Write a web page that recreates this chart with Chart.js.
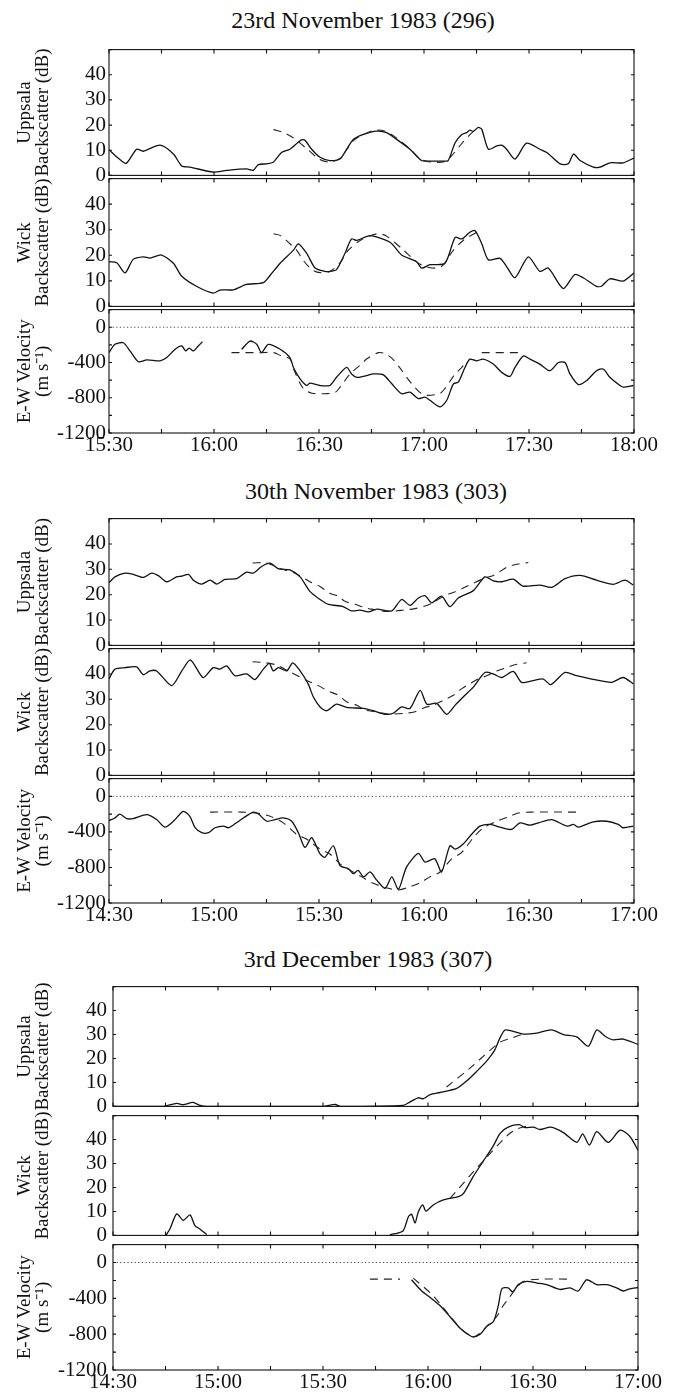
<!DOCTYPE html>
<html><head><meta charset="utf-8">
<script src="https://cdn.jsdelivr.net/npm/chart.js@4.4.1/dist/chart.umd.min.js"></script>
<style>
html,body{margin:0;padding:0;background:#fff;}
body{width:678px;height:1396px;position:relative;overflow:hidden;font-family:'Liberation Serif','Times New Roman',Times,serif;color:#111;}
.ttl{position:absolute;font-size:24px;line-height:24px;white-space:nowrap;transform:translateX(-50%);}
</style></head><body>
<div class="ttl" style="left:363px;top:8px;">23rd November 1983 (296)</div>
<div class="ttl" style="left:376px;top:479px;">30th November 1983 (303)</div>
<div class="ttl" style="left:368px;top:947px;">3rd December 1983 (307)</div>
<script>
// ---------- 23rd November 1983 (minutes after 15:30) ----------
const g1UppT = [0,2.7,4.9,7.9,9.8,14.6,18.4,20.8,23.1,29.8,33.6,39.3,41.2,42.7,45.1,46.9,49.3,51.7,53.9,55,56,57.9,60.3,63.1,66,67.9,69.8,72.7,76.5,79.3,82.2,86,89.3,91.7,95.5,96.9,98.9,100.8,102.2,103.1,104.1,105.5,106.5,108.4,110.8,112.2,113.6,116,119.3,123.1,125.1,128.9,131.2,132.7,134.6,138.4,140.3,143.1,146.9,150];
const g1UppV = [10.2,6.8,4.8,10.4,9.6,12,8.5,3.7,3.3,1.3,2,2.6,2,4.3,4.6,5.2,9.1,10.4,13,14.1,14,10.4,7.2,5.9,6.5,10.4,14.3,16.3,17.6,17,14.3,10.4,5.9,5.7,5.7,5.9,13,16.3,17,18,17.5,19.1,18.3,10.4,11.7,12,10.4,6.5,12.8,10.4,9.1,4.6,4.6,8.5,5.9,3.3,3.3,5,5,6.9];
const g1UppFitT = [47,50,53,57,60,63,66,68,70,73,76,79,82,86,89,92,96,98,101,103,105];
const g1UppFitV = [18.2,17,14.6,10,6.5,5.3,6.8,10.4,14,16.5,18,17.5,15,10.5,6.5,5.3,5.5,8,13,16,18.5];
const g1WickT = [0,2.2,4.6,6.9,9.8,11.7,15,18.4,20.8,25.1,29.8,31.7,35.5,39.3,44.1,46,48.9,52.7,54.1,56.5,58.9,61.7,63.1,65,67.4,69.3,70.8,74.6,80.3,83.6,87.9,89.3,91.7,96,98.9,100.8,103.1,104.6,106.5,108.4,111.7,113.6,116,119.8,123.1,125.5,129.8,133.1,135.5,139.3,140.8,143.1,146.9,150];
const g1WickV = [17.5,17.1,13.1,18.4,19.4,18.9,20.1,16.9,11.8,7.8,5.2,6.4,6.5,8.6,9.3,12.1,16.9,22,24.5,20.7,15,13.7,13.7,14.4,20.7,26.4,25.8,27.7,25.1,20.1,17.5,15,16.3,16.9,27,26.4,29,29.6,24.5,18.2,18.8,15.6,11.2,19.4,13.7,15,7,12.5,11.2,7.8,8,10.8,9.9,13.1];
const g1WickFitT = [47,49,51.7,53.6,55.5,58,60.3,63.1,66,68.4,72,76.5,79,83.6,88.3,91.7,95,98.4,101.2,105];
const g1WickFitV = [28.4,27.7,24.5,22,18,14.4,13.2,13.7,17,22,26,28.4,27.7,22.7,17,15.1,15.6,22,25.8,29];
const g1VelT = [0,1.7,4.1,6,8.4,10.8,14.6,16.5,18.9,20.8,21.9,22.9,24.1,25.5,26.7,32,37.9,40.3,42.2,43.6,45.5,48.9,51.7,52.7,54.6,56.5,57.4,60.3,63.1,65,67.9,69.3,70.8,73.6,75.5,78.4,80.8,83.6,86,88.4,90.3,91.7,94.6,96.5,98.4,99.8,101.7,103.1,105,106.9,109.8,112.2,114.6,116,118.4,120.3,123.1,126,128.4,130.3,131.7,134.1,136.5,139.3,141.2,143.1,146,146.9,149.8];
const g1VelV = [-288,-194,-176,-269,-392,-370,-381,-344,-250,-213,-269,-236,-269,-213,-165,null,-250,-157,-194,-288,-194,-250,-344,-456,-586,-661,-635,-661,-661,-568,-456,-530,-568,-549,-530,-540,-642,-754,-736,-810,-792,-829,-904,-829,-642,-624,-456,-362,-381,-362,-418,-512,-557,-456,-325,-362,-418,-493,-400,-400,-530,-650,-605,-493,-474,-568,-661,-680,-661];
const g1VelFitT = [35,43.6,47,49,51.7,53,55.5,58,61.7,64.6,66,68.9,72.2,73.6,77,79,81,83,86.5,89.3,91,94.6,96,98.9,100.8,102.2,104,106.5,118.4];
const g1VelFitV = [-288,-288,-288,-320,-360,-500,-694,-750,-754,-740,-680,-530,-414,-360,-288,-302,-360,-456,-642,-754,-773,-750,-694,-530,-456,-381,null,-288,-288];

// ---------- 30th November 1983 (minutes after 14:30) ----------
const g2UppT = [0,1.7,4.6,6.9,9.8,12.2,14.1,16.5,19.3,20.8,22.7,24.1,26.5,28.9,30.8,33.1,36.5,39.3,41.2,43.6,46,48.4,51.7,54.6,57.4,60.3,62.7,66.9,69.3,71.7,74.1,76.5,80.8,83.6,86,88.4,90.3,92.2,95,97.4,99.8,104.1,107.4,109.8,112.2,115.5,118.2,123.1,126.5,130.3,134.6,139.3,144.1,147.4,149.8];
const g2UppV = [24.7,27,28.5,28,26.8,28.5,27.5,25.1,27,27.3,28,25.7,24.2,25.7,24.2,26,26.3,28.9,28.5,31.1,32.4,30.2,29.8,27,21.3,18.1,16.2,15.3,13.6,13.9,13.2,14.3,13.6,18.1,15.8,18.7,19.6,16.8,19.4,15.3,18.7,21.6,27,25.4,25.1,26.1,23.4,23.8,22.9,26.3,27.6,25.7,24.1,25.7,23.8];
const g2UppFitT = [41,45,48.9,53.1,57.4,60.3,63.1,65.5,67.4,70.3,73.1,75,79.7,84.6,87.4,90.3,92.6,95.5,98.4,101.2,104.1,107,109.8,111.2,113.6,116.9,119.8];
const g2UppFitV = [32.5,32.5,30.3,28.5,25.1,23.2,20.6,19.4,17.4,16.2,14.9,14.3,13.4,14,14.5,15.5,16.8,19.4,20.9,22.6,24.5,26.3,27.6,28.6,30.8,32.1,32.7];
const g2WickT = [0,1.7,4.6,7.9,9.8,11.7,13.6,17.9,20.8,23.3,26.9,29.8,31.7,33.6,36,39.3,41.7,44.1,45.8,46.9,48.4,50.8,52.5,54.6,56.9,58.4,60.3,62.2,65,67.9,72.7,75.5,78.9,81.2,83.6,86,88.9,90.8,93.6,96.5,98.9,101.7,104.1,107.4,109.8,112.2,115.5,117.9,121.2,124.1,126.2,130.3,133.6,137.9,143.6,146.9,149.8];
const g2WickV = [38,41.9,42.5,42.8,39.7,41.2,41.2,35.4,41.2,45.5,38.6,42.5,41.9,43.2,39.3,40,37.8,41.9,44.2,41.2,42.5,41.2,44.4,41.2,36.1,30.9,27,25.5,28.1,26.8,26.4,25.5,24.1,24.5,27,26.4,33.5,28.1,28.4,24.1,27.7,31.6,34.8,40.6,40,38.6,41,36.7,37.4,38,35.8,40.6,39.3,38,36.7,38.6,36.1];
const g2WickFitT = [41,44.9,47.9,51.2,56.5,59.8,62.7,65.5,67.9,70.8,73.1,76,79.8,84.6,87.4,90.3,92.7,95.5,98.4,100.8,103.1,105.5,107.9,110.8,113.6,116.5,119.3];
const g2WickFitV = [44.8,44.4,43.5,41.2,37.4,35.4,33.2,31.6,29,27.7,25.8,25.1,24.2,24.5,25.1,26.8,27.7,29.6,31.6,34.2,36.1,38,39.3,41.2,42.5,43.8,44.4];
const g2VelT = [0,1.7,3.1,5.1,6.9,10.8,13.6,16,18.4,21.2,23.1,24.6,26.5,28.4,30.3,32.7,34.1,36,38.4,41.2,42.7,45.1,47.4,49.8,52.2,54.1,56,57.9,60.3,61.7,64.1,66,68.4,69.8,71.2,72.7,74.6,76.5,78.9,80.8,82.7,85,88.4,90.3,93.1,95,97.4,98.9,101.2,103.6,106,108.9,111.7,115,117.4,120.3,122.7,126.5,130.8,132.7,134.1,138.4,142.2,145.5,146.9,149.8];
const g2VelV = [-272,-243,-199,-250,-250,-206,-261,-346,-280,-169,-224,-353,-409,-409,-353,-335,-353,-309,-243,-177,-199,-280,-261,-243,-280,-409,-575,-464,-648,-685,-556,-780,-814,-869,-832,-906,-851,-943,-1035,-906,-1046,-796,-641,-740,-703,-851,-556,-593,-537,-427,-335,-316,-346,-372,-298,-324,-298,-261,-335,-316,-346,-287,-280,-316,-353,-335];
const g2VelFitT = [28.9,37.9,42.2,46,49.8,53.6,56.5,60.3,63.1,66,68.9,72.2,75.5,79.8,82.7,86,88.9,91.7,94.6,97.9,100.8,104.1,107,110.8,114.6,116.9,120.3,133.6];
const g2VelFitV = [-177,-177,-188,-224,-298,-427,-482,-593,-648,-759,-832,-906,-979,-1035,-1053,-1017,-972,-906,-851,-703,-630,-464,-353,-280,-224,-188,-177,-177];

// ---------- 3rd December 1983 (minutes after 14:30) ----------
const g3UppT = [0,14,18.2,20.1,22.8,24.9,26.8,60,62,63.5,65,82.9,84.9,87.2,88.7,90.6,93.4,98.2,101.1,103.9,106.8,109.1,110.6,112,113.9,117.2,121.1,125.3,128.7,132.5,135.8,138.2,140.6,142.9,145.8,150];
const g3UppV = [0,0,1.3,0.7,1.7,0.4,0,0,0.5,0.8,0,0.4,1.9,3.6,3.2,4.9,5.8,7.5,10.7,14.6,19,23.6,28.7,31.9,31.5,30.2,30.6,31.9,30,29,25.1,31.9,29.3,27.8,28.1,25.9];
const g3UppFitT = [95.3,102,110.6,113.4,117.2];
const g3UppFitV = [8.1,16,26.8,28.3,30.2];
const g3WickT = [15.1,16.3,18.2,20.1,22,23.4,24.9,26.8,50,79.1,80.6,82.9,84.4,85.3,86.3,87.2,88.5,89.4,91.5,94.4,98.7,100.1,102.9,105.8,108.7,110.6,112.9,116.1,117.7,120.1,122,125.1,128.7,132.5,134.2,136.1,138.2,141.5,144.9,147.7,150];
const g3WickV = [0,2.8,9,6.3,8.6,4.1,2.6,0.4,null,0.3,0.7,1.9,7.8,8.8,5.2,9.7,12.7,10.1,12.7,14.8,16.2,17.4,24.5,31,37.5,42.6,45.2,46.2,45,45.2,44.2,45.2,42.9,38.8,42.4,37.7,43.3,38.8,43.9,41.3,35.5];
const g3WickFitT = [96.3,104.5,112.9,115.8,119.1];
const g3WickFitV = [15.5,29,42,44.6,45.9];
const g3VelT = [85.3,88.2,90.6,93.4,96.3,99.1,101.5,102.9,104.9,106.8,108.7,110.1,111.1,112.9,114.2,115.8,118.2,121.1,123.9,127.7,130.6,132.9,135.3,138.2,141.1,143.9,145.8,147.7,150];
const g3VelV = [-193,-318,-390,-480,-605,-731,-802,-831,-802,-713,-659,-480,-293,-283,-329,-247,-211,-229,-247,-301,-283,-318,-193,-247,-247,-283,-318,-293,-279];
const g3VelFitT = [73.4,82,84,85.8,91.5,96.8,100.1,102.9,104.9,107.2,109.6,111.5,112.9,115.3,117.2,122,130.6];
const g3VelFitV = [-186,-186,null,-175,-372,-623,-766,-830,-785,-695,-605,-480,-408,-283,-211,-186,-186];

// axis labels / ticks
const uppTitle = ['Uppsala','Backscatter (dB)'];
const wickTitle = ['Wick','Backscatter (dB)'];
const velTitle = ['E-W Velocity','(m s\u207B\u00B9)'];
const dbTickLabels = [0,10,20,30,40];
const velTickLabels = [0,-400,-800,-1200];

const FONT = "'Liberation Serif','Times New Roman',Times,serif";
function fmt(m){const h=Math.floor(m/60), mm=m%60; return h+':'+String(mm).padStart(2,'0');}
function pts(T,V){return T.map((t,i)=>({x:t,y:V[i]}));}

const framePlugin = {
  id:'frame',
  afterDatasetsDraw(chart, args, o){
    const {ctx, chartArea:a} = chart; const xs=chart.scales.x, ys=chart.scales.y;
    ctx.save(); ctx.strokeStyle='#111'; ctx.lineWidth=1.1;
    ctx.strokeRect(a.left, a.top, a.right-a.left, a.bottom-a.top);
    ctx.beginPath();
    for(let t=0;t<=150;t+=15){const px=xs.getPixelForValue(t); ctx.moveTo(px,a.bottom); ctx.lineTo(px,a.bottom-4); ctx.moveTo(px,a.top); ctx.lineTo(px,a.top+4);}
    for(let v=o.yMin; v<=o.yMax; v+=o.yStep){const py=ys.getPixelForValue(v); ctx.moveTo(a.left,py); ctx.lineTo(a.left+3,py); ctx.moveTo(a.right,py); ctx.lineTo(a.right-3,py);}
    ctx.stroke(); ctx.restore();
  }
};

function panel(o){
  const M=14, XH=30;
  const h = (o.B-o.T) + M + (o.xAxis? XH : M);
  const cv = document.createElement('canvas');
  cv.width=678; cv.height=h;
  cv.style.cssText = 'position:absolute;left:0;top:'+(o.T-M)+'px;width:678px;height:'+h+'px;';
  document.body.appendChild(cv);
  const ds = [];
  if (o.zero) ds.push({data:[{x:0,y:0},{x:150,y:0}], borderColor:'#444', borderWidth:1, borderDash:[1.2,2.4], pointRadius:0, tension:0});
  ds.push({data:pts(o.fitT,o.fitV), borderColor:'#222', borderWidth:1.1, borderDash:[8,6], pointRadius:0, tension:0.3, spanGaps:false});
  ds.push({data:pts(o.t,o.v), borderColor:'#111', borderWidth:1.3, pointRadius:0, tension:0.25, spanGaps:false});
  const labs = o.vel ? velTickLabels : dbTickLabels;
  new Chart(cv, {
    type:'line',
    data:{datasets:ds},
    options:{
      responsive:false, animation:false, events:[],
      layout:{padding:{left:0,right:678-o.R,top:M,bottom:o.xAxis?0:M}},
      plugins:{legend:{display:false}, tooltip:{enabled:false}, title:{display:false},
        frame:{yMin:o.yMin,yMax:o.yMax,yStep:o.yStep}},
      scales:{
        x:{type:'linear', min:0, max:150, display:!!o.xAxis,
           grid:{display:false, drawTicks:false}, border:{display:false},
           ticks:{stepSize:15, autoSkip:false, maxRotation:0, padding:0, font:{family:FONT,size:21}, color:'#111',
                  callback:v=> v%30===0? fmt(o.start+v):''},
           afterFit:s=>{ s.height = o.xAxis ? XH : 0; }},
        y:{type:'linear', min:o.yMin, max:o.yMax,
           grid:{display:false, drawTicks:false}, border:{display:false},
           ticks:{stepSize:o.yStep, autoSkip:false, padding:o.pad, font:{family:FONT,size:21}, color:'#111',
                  callback:v=> labs.includes(v)? String(v):''},
           title:{display:true, text:o.title, font:{family:FONT,size:19,lineHeight:0.95}, color:'#111', padding:{top:16,bottom:0}},
           afterFit:s=>{s.width=o.L;}}
      }
    },
    plugins:[framePlugin]
  });
}

const groups = [
  {start:15*60+30, L:109, R:634, Y:[48,177,308,433], pad:3,
   u:[g1UppT,g1UppV,g1UppFitT,g1UppFitV], w:[g1WickT,g1WickV,g1WickFitT,g1WickFitV], e:[g1VelT,g1VelV,g1VelFitT,g1VelFitV]},
  {start:14*60+30, L:109, R:634, Y:[517,647,777,903], pad:3,
   u:[g2UppT,g2UppV,g2UppFitT,g2UppFitV], w:[g2WickT,g2WickV,g2WickFitT,g2WickFitV], e:[g2VelT,g2VelV,g2VelFitT,g2VelFitV]},
  {start:14*60+30, L:113, R:638, Y:[982,1111,1240,1370], pad:6,
   u:[g3UppT,g3UppV,g3UppFitT,g3UppFitV], w:[g3WickT,g3WickV,g3WickFitT,g3WickFitV], e:[g3VelT,g3VelV,g3VelFitT,g3VelFitV]}
];
groups.forEach(g=>{
  panel({start:g.start,L:g.L,R:g.R,T:g.Y[0],B:g.Y[1],pad:g.pad,yMin:0,yMax:50,yStep:10,title:uppTitle,t:g.u[0],v:g.u[1],fitT:g.u[2],fitV:g.u[3]});
  panel({start:g.start,L:g.L,R:g.R,T:g.Y[1],B:g.Y[2],pad:g.pad,yMin:0,yMax:50,yStep:10,title:wickTitle,t:g.w[0],v:g.w[1],fitT:g.w[2],fitV:g.w[3]});
  panel({start:g.start,L:g.L,R:g.R,T:g.Y[2],B:g.Y[3],pad:g.pad,yMin:-1200,yMax:200,yStep:200,title:velTitle,vel:true,zero:true,xAxis:true,t:g.e[0],v:g.e[1],fitT:g.e[2],fitV:g.e[3]});
});
</script>
</body></html>
